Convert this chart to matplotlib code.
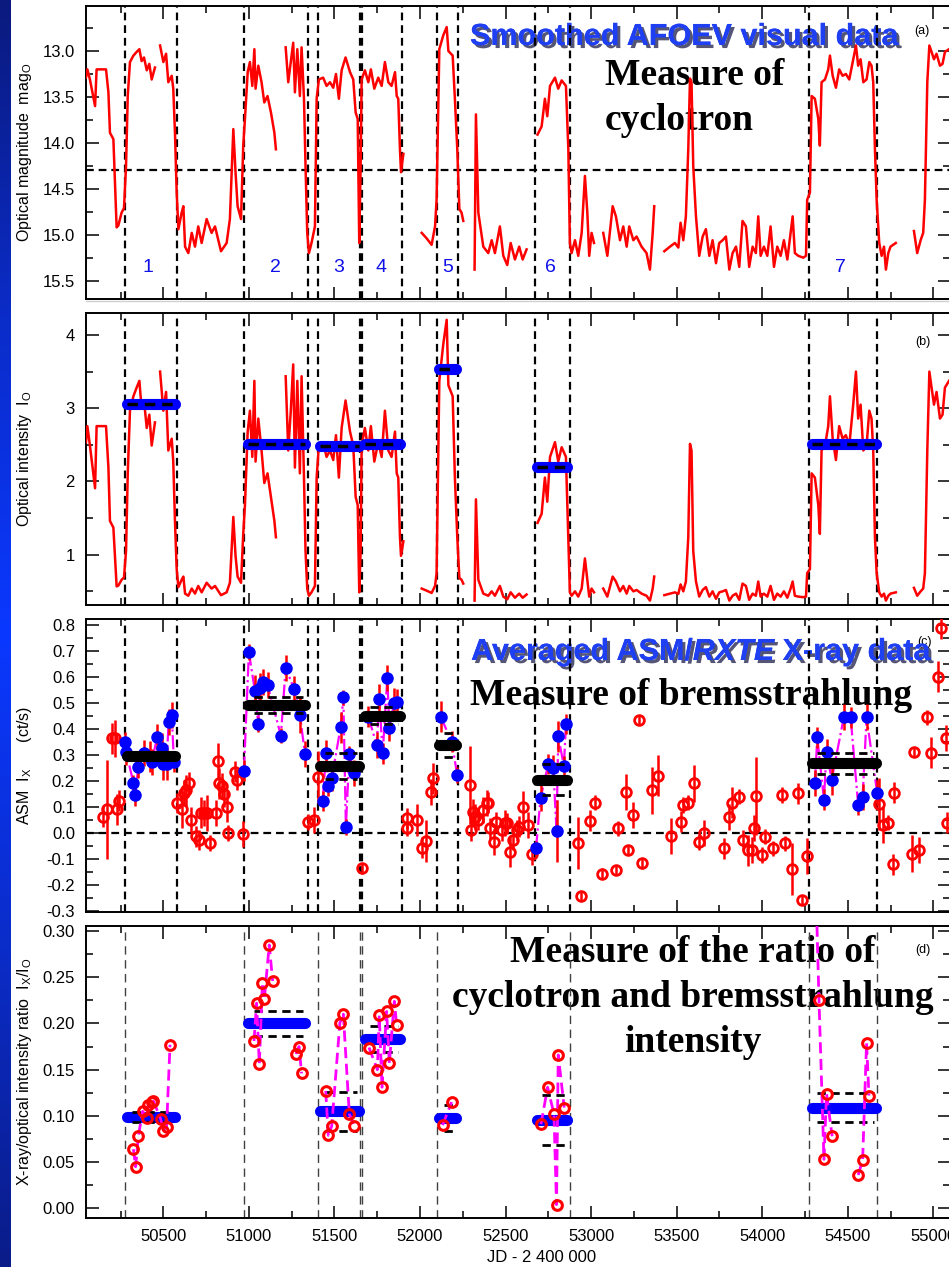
import numpy as np
import matplotlib.pyplot as plt
import matplotlib.patheffects as pe
from matplotlib.colors import LinearSegmentedColormap
from matplotlib.lines import Line2D
from matplotlib.ticker import MultipleLocator, FormatStrFormatter

plt.rcParams['font.family'] = ['Liberation Sans', 'DejaVu Sans']
plt.rcParams['mathtext.fontset'] = 'custom'
plt.rcParams['mathtext.rm'] = 'Liberation Sans'
plt.rcParams['mathtext.it'] = 'Liberation Sans:italic'

nan = np.nan

# --- smoothed AFOEV visual light curve (JD-2400000, magnitude), nan = gap ---
opt_jd = [50048, 50056, 50071, 50101, 50110, 50165, 50179, 50188, 50208, 50227, 50237, 50256,
          50270, 50282, 50292, 50305, 50325, 50344, 50360, 50373, 50387, 50403, 50418, 50432,
          50451, nan,
          50481, 50500, 50516, 50529, 50549, 50558, 50568, 50578, 50588, 50607, 50617, 50627,
          50646, 50666, 50685, 50704, 50724, 50753, 50782, 50802, 50837, 50870, 50889, 50909,
          50922, 50934, 50954, 50967, 50977, 50993, 51006, 51020, 51032, 51039, 51055, 51074,
          51090, 51109, 51129, 51149, 51158, nan,
          51215, 51230, 51245, 51259, 51269, 51283, 51298, 51308, 51322, 51331, 51341, 51351,
          51366, 51386, 51396, 51409, 51434, 51454, 51474, 51493, 51509, 51526, 51542, 51565,
          51591, 51610, 51624, 51636, 51645, 51653, 51659, 51678, 51698, 51713, 51733, 51756,
          51776, 51795, 51815, 51834, 51854, 51864, 51873, 51883, 51889, 51903, nan,
          52010, 52039, 52068, 52088, 52097, 52113, 52136, 52156, 52166, 52191, 52204, 52218,
          52230, 52243, 52253, nan,
          52319, 52327, 52341, 52370, 52399, 52419, 52438, 52467, 52487, 52510, 52530, 52555,
          52580, 52600, 52623, nan,
          52687, 52711, 52730, 52744, 52760, 52789, 52808, 52828, 52853, 52867, 52876, 52886,
          52906, 52925, 52945, 52964, 52978, 52989, 53003, 53017, nan,
          53071, 53095, 53126, 53145, 53169, 53188, 53208, 53223, 53247, 53266, 53295, 53324,
          53344, 53360, 53369, nan,
          53428, 53461, 53490, 53510, 53523, 53539, 53554, 53568, 53578, 53587, 53597, 53613,
          53632, 53652, 53671, 53691, 53710, 53730, 53749, 53769, 53788, 53808, 53827, 53847,
          53866, 53885, 53905, 53924, 53944, 53963, 53977, 53991, 54010, 54030, 54049, 54069,
          54088, 54108, 54127, 54147, 54166, 54178, 54191, 54211, 54240, 54256, 54263, 54279,
          54289, 54308, 54328, 54337, 54347, 54367, 54386, 54396, 54412, 54431, 54450, 54470,
          54489, 54509, 54532, 54548, 54561, 54575, 54591, 54610, 54626, 54639, 54649, 54659,
          54669, 54684, 54698, 54712, 54723, 54737, 54750, 54766, 54781, nan,
          54887, 54906, 54926, 54941, 54951, 54965, 54977, 54990, 55004, 55019, 55039, 55054,
          55068, 55092]
opt_mag = [13.29, 13.20, 13.31, 13.60, 13.20, 13.20, 13.45, 13.89, 13.96, 14.92, 14.90, 14.76,
           14.71, 14.25, 13.49, 13.12, 13.05, 13.01, 12.98, 13.11, 13.07, 13.21, 13.14, 13.31,
           13.18, nan,
           12.94, 13.12, 13.03, 13.34, 13.27, 13.41, 13.89, 14.54, 14.94, 14.76, 14.69, 15.13,
           15.20, 14.98, 15.13, 14.91, 15.09, 14.83, 14.98, 14.91, 15.18, 15.09, 14.83, 13.85,
           14.32, 14.69, 14.83, 14.03, 13.74, 13.23, 13.12, 13.38, 12.98, 13.41, 13.16, 13.34,
           13.56, 13.49, 13.67, 13.89, 14.07, nan,
           12.96, 13.34, 13.12, 12.91, 13.45, 12.98, 13.49, 12.96, 13.52, 14.25, 14.98, 15.20,
           15.09, 14.91, 13.52, 13.31, 13.29, 13.38, 13.34, 13.40, 13.25, 13.52, 13.21, 13.07,
           13.23, 13.31, 13.67, 13.74, 15.09, 14.25, 13.31, 13.21, 13.34, 13.20, 13.41, 13.29,
           13.38, 13.12, 13.34, 13.38, 13.23, 13.49, 13.52, 14.07, 14.32, 14.12, nan,
           14.98, 15.04, 15.11, 14.91, 14.62, 12.98, 12.83, 12.74, 13.00, 13.05, 13.52, 14.07,
           14.72, 14.76, 14.85, nan,
           15.38, 13.69, 14.76, 15.13, 15.20, 15.06, 15.20, 14.91, 15.23, 15.33, 15.09, 15.27,
           15.13, 15.27, 15.16, nan,
           13.91, 13.82, 13.52, 13.71, 13.38, 13.29, 13.41, 13.32, 13.38, 14.07, 15.09, 15.20,
           15.06, 15.23, 14.98, 14.36, 14.76, 15.23, 14.98, 15.09, nan,
           14.98, 15.23, 14.69, 14.80, 15.06, 14.91, 15.13, 14.91, 15.06, 15.02, 15.13, 15.20,
           15.38, 14.98, 14.69, nan,
           15.18, 15.13, 15.09, 15.14, 14.87, 15.06, 14.80, 14.07, 13.30, 13.34, 14.25, 14.80,
           15.23, 15.02, 14.94, 15.23, 15.06, 15.31, 15.09, 15.06, 15.02, 15.38, 15.20, 15.13,
           15.35, 14.85, 14.91, 15.35, 15.13, 15.20, 14.80, 15.23, 15.13, 15.23, 14.91, 15.35,
           15.13, 15.23, 15.06, 15.27, 14.98, 14.80, 15.20, 15.23, 15.25, 15.23, 14.62, 14.54,
           13.49, 13.52, 13.74, 14.03, 13.34, 13.31, 13.20, 13.05, 13.27, 13.40, 13.20, 13.27,
           13.25, 13.31, 13.09, 12.94, 13.16, 13.09, 13.34, 13.31, 13.12, 13.16, 13.34, 14.07,
           14.62, 15.09, 15.23, 15.13, 15.38, 15.20, 15.13, 15.11, 15.09, nan,
           14.96, 15.20, 15.06, 14.98, 14.62, 13.34, 12.94, 13.01, 13.09, 13.03, 13.16, 13.14,
           13.01, 12.98]
mag_ref = 14.3   # magnitude where optical intensity = 1 (dashed line in panel a)

# --- high-state intervals and their averages ---
state_start = [50286, 50997, 51416, 51678, 52113, 52682, 54289]
state_end = [50568, 51328, 51645, 51883, 52210, 52861, 54665]
state_label = ['1', '2', '3', '4', '5', '6', '7']
label_jd = [50411, 51158, 51526, 51771, 52163, 52765, 54460]
opt_avg = [3.06, 2.51, 2.48, 2.51, 3.54, 2.19, 2.51]
asm_avg = [0.297, 0.492, 0.257, 0.451, 0.338, 0.205, 0.267]
asm_avg_err = [0.010, 0.030, 0.050, 0.034, 0.046, 0.060, 0.039]
ratio_avg = [0.099, 0.200, 0.105, 0.183, 0.098, 0.096, 0.109]
ratio_avg_err = [0.0055, 0.013, 0.021, 0.014, 0.014, 0.027, 0.0155]

bounds_jd = [50278, 50578, 50972, 51344, 51406, 51651, 51663, 51897, 52100, 52222,
             52672, 52875, 54275, 54673]
bounds_jd_d = [50278, 50972, 51406, 51651, 51663, 52100, 52875, 54275, 54673]

# --- averaged ASM/RXTE points (all) ---
asm_jd = [50145, 50173, 50198, 50218, 50231, 50241, 50582, 50607, 50621, 50632, 50648, 50660,
          50691, 50710, 50720, 50738, 50757, 50773, 50808, 50821, 50827, 50841, 50855, 50870,
          50880, 50919, 50932, 50964, 51347, 51382, 51402, 51659, 51922, 51926, 51980, 52010,
          52035, 52062, 52078, 52292, 52296, 52310, 52321, 52340, 52370, 52389, 52399, 52409,
          52432, 52444, 52477, 52497, 52506, 52526, 52545, 52565, 52580, 52604, 52633, 52652,
          52925, 52939, 52993, 53022, 53061, 53145, 53159, 53204, 53217, 53247, 53280, 53299,
          53354, 53393, 53467, 53523, 53539, 53568, 53601, 53632, 53661, 53776, 53808, 53821,
          53866, 53885, 53919, 53938, 53952, 53963, 53997, 54016, 54061, 54113, 54133, 54172,
          54211, 54230, 54260, 54684, 54708, 54737, 54762, 54770, 54873, 54887, 54918, 54965,
          54984, 55029, 55043, 55074, 55082]
asm_rate = [0.062, 0.090, 0.363, 0.363, 0.090, 0.123, 0.115, 0.090, 0.154, 0.164, 0.193, 0.049,
            -0.013, -0.028, 0.077, 0.077, 0.077, -0.039, 0.077, 0.277, 0.190, 0.180, 0.149, 0.100,
            0.000, 0.235, 0.205, -0.005, 0.041, 0.049, 0.216, -0.137, 0.055, 0.017, 0.049, -0.057,
            -0.032, 0.158, 0.209, 0.184, 0.010, 0.081, 0.062, 0.051, 0.087, 0.113, 0.116, 0.017,
            -0.037, 0.041, 0.010, 0.036, 0.036, -0.073, -0.028, 0.010, 0.023, 0.100, 0.030, -0.083,
            -0.041, -0.244, 0.046, 0.116, -0.157, -0.144, 0.017, 0.158, -0.067, 0.068, 0.434, -0.118,
            0.164, 0.220, -0.013, 0.042, 0.107, 0.116, 0.190, -0.035, 0.000, -0.060, 0.062, 0.116,
            0.139, -0.028, -0.067, -0.067, 0.017, 0.141, -0.086, -0.015, -0.060, 0.145, -0.041, -0.141,
            0.152, -0.259, -0.089, 0.110, 0.030, 0.039, -0.121, 0.154, -0.080, 0.312, -0.067, 0.444,
            0.308, 0.601, 0.787, 0.363, 0.039]
asm_err = [0.04, 0.19, 0.06, 0.07, 0.06, 0.04, 0.04, 0.07, 0.05, 0.06, 0.04, 0.05,
           0.04, 0.04, 0.06, 0.05, 0.07, 0.03, 0.05, 0.07, 0.06, 0.05, 0.05, 0.06,
           0.03, 0.04, 0.04, 0.05, 0.03, 0.05, 0.10, 0.02, 0.04, 0.03, 0.06, 0.04,
           0.08, 0.05, 0.06, 0.15, 0.04, 0.05, 0.05, 0.04, 0.05, 0.05, 0.04, 0.04,
           0.05, 0.04, 0.04, 0.05, 0.04, 0.06, 0.04, 0.04, 0.04, 0.06, 0.05, 0.04,
           0.10, 0.02, 0.04, 0.03, 0.02, 0.02, 0.03, 0.07, 0.02, 0.05, 0.02, 0.02,
           0.09, 0.08, 0.07, 0.04, 0.03, 0.03, 0.07, 0.03, 0.05, 0.04, 0.05, 0.06,
           0.03, 0.04, 0.06, 0.05, 0.05, 0.15, 0.03, 0.03, 0.03, 0.03, 0.03, 0.10,
           0.04, 0.02, 0.07, 0.10, 0.07, 0.03, 0.04, 0.04, 0.07, 0.02, 0.05, 0.03,
           0.06, 0.06, 0.04, 0.05, 0.04]

# --- ASM points inside high states ---
act_jd = [[50276, 50282, 50325, 50334, 50354, 50387, 50422, 50432, 50465, 50490, 50500, 50519, 50531, 50549, 50562],
          [50971, 51000, 51035, 51055, 51065, 51084, 51109, 51187, 51215, 51265, 51298, 51328],
          [51431, 51451, 51464, 51484, 51536, 51552, 51567, 51587, 51616],
          [51698, 51747, 51762, 51782, 51809, 51821, 51848, 51867],
          [52121, 52185, 52218],
          [52678, 52705, 52750, 52779, 52798, 52808, 52841, 52853],
          [54308, 54322, 54361, 54376, 54406, 54478, 54517, 54561, 54587, 54610, 54672]]
act_rate = [[0.348, 0.312, 0.193, 0.145, 0.252, 0.306, 0.293, 0.274, 0.370, 0.325, 0.265, 0.265, 0.428, 0.453, 0.274],
            [0.239, 0.695, 0.547, 0.417, 0.556, 0.582, 0.569, 0.374, 0.636, 0.552, 0.453, 0.303],
            [0.122, 0.306, 0.181, 0.209, 0.406, 0.521, 0.023, 0.303, 0.231],
            [0.447, 0.338, 0.514, 0.306, 0.595, 0.404, 0.498, 0.505],
            [0.447, 0.351, 0.222],
            [-0.060, 0.135, 0.265, 0.248, 0.008, 0.372, 0.257, 0.419],
            [0.190, 0.367, 0.128, 0.312, 0.205, 0.447, 0.444, 0.107, 0.136, 0.444, 0.154]]
act_err = [[0.04, 0.05, 0.03, 0.04, 0.04, 0.05, 0.06, 0.05, 0.05, 0.06, 0.06, 0.06, 0.05, 0.05, 0.04],
           [0.04, 0.03, 0.06, 0.03, 0.06, 0.05, 0.05, 0.03, 0.05, 0.05, 0.07, 0.05],
           [0.04, 0.05, 0.04, 0.05, 0.06, 0.03, 0.03, 0.03, 0.05],
           [0.04, 0.05, 0.06, 0.04, 0.05, 0.05, 0.06, 0.05],
           [0.06, 0.04, 0.03],
           [0.03, 0.05, 0.04, 0.05, 0.12, 0.06, 0.04, 0.04],
           [0.05, 0.04, 0.04, 0.05, 0.06, 0.05, 0.04, 0.04, 0.05, 0.05, 0.05]]

# --- X-ray / optical ratio ---
ratio_jd = [[50325, 50338, 50354, 50379, 50403, 50412, 50432, 50442, 50484, 50500, 50519, 50539],
            [51030, 51045, 51061, 51079, 51090, 51119, 51139, nan, 51275, 51293, 51308],
            [51449, 51464, 51484, 51532, 51552, 51587, 51616],
            [51702, 51751, 51762, 51778, 51805, 51821, 51850, 51864],
            [52132, 52185],
            [52707, 52746, 52783, 52798, 52808, 52843],
            [54312, 54332, 54361, 54376, 54409, nan, 54561, 54587, 54610, 54624]]
ratio_val = [[0.064, 0.045, 0.078, 0.105, 0.098, 0.112, 0.115, 0.116, 0.097, 0.084, 0.088, 0.177],
             [0.181, 0.222, 0.156, 0.244, 0.226, 0.285, 0.246, nan, 0.167, 0.175, 0.146],
             [0.127, 0.079, 0.089, 0.201, 0.210, 0.102, 0.089],
             [0.174, 0.150, 0.209, 0.131, 0.213, 0.157, 0.224, 0.198],
             [0.090, 0.115],
             [0.091, 0.131, 0.102, 0.004, 0.166, 0.109],
             [0.360, 0.225, 0.053, 0.124, 0.078, nan, 0.036, 0.052, 0.179, 0.122]]

W, H = 949, 1267
fig = plt.figure(figsize=(W / 100, H / 100), dpi=100)


def fx(px):
    return px / W


def fy(py):
    return 1 - py / H


def panel(top, bottom):
    ax = fig.add_axes([fx(86), fy(bottom), (950.4 - 86) / W, (bottom - top) / H])
    ax.patch.set_visible(False)
    ax.set_xlim(50048, 55100)
    ax.xaxis.set_major_locator(MultipleLocator(500))
    ax.xaxis.set_minor_locator(MultipleLocator(250))
    ax.tick_params(which='both', direction='in', top=True, right=True, labelsize=12,
                   width=1.1, pad=8)
    ax.tick_params(which='major', length=9)
    ax.tick_params(which='minor', length=5)
    for s in ax.spines.values():
        s.set_linewidth(1.4)
    return ax


# blue strip at the left border
strip = fig.add_axes([0, 0, 11 / W, 1])
cmap = LinearSegmentedColormap.from_list('strip', ['#0a1a7e', '#0a2cc8', '#0a38ff', '#0a2cc8', '#0a1c88'])
strip.imshow(np.linspace(0, 1, 256)[:, None], aspect='auto', cmap=cmap)
strip.axis('off')

fig.add_artist(Line2D([fx(86), 1], [fy(300.5)] * 2, color='0.82', lw=1))

vdash = dict(color='k', lw=1.6, dashes=(3.5, 2.2), zorder=1)
shadow = [pe.withSimplePatchShadow(offset=(2.2, -2.2), shadow_rgbFace='#1c1c48', alpha=0.75),
          pe.Normal()]
blue_title = dict(fontsize=22, weight='bold', color='#1e3ff2', va='baseline', ha='left',
                  path_effects=shadow, zorder=-1)
black_serif = dict(fontsize=27, weight='bold', family='Liberation Serif', color='k',
                   va='baseline', zorder=-1)
opt_int = 10 ** (-0.4 * (np.array(opt_mag) - mag_ref))

# ---------------- (a) optical magnitude ----------------
ax1 = panel(6, 299)
ax1.set_ylim(15.7, 12.51)
ax1.yaxis.set_major_locator(MultipleLocator(0.5))
ax1.yaxis.set_minor_locator(MultipleLocator(0.25))
ax1.yaxis.set_major_formatter(FormatStrFormatter('%.1f'))
ax1.tick_params(labelbottom=False)
for x in bounds_jd:
    ax1.axvline(x, **vdash)
ax1.axhline(mag_ref, **vdash)
ax1.plot(opt_jd, opt_mag, color='#ff0000', lw=1.8, zorder=3)
for x, s in zip(label_jd, state_label):
    ax1.text(x, 15.36, s, color='#1010e8', fontsize=14, ha='center', va='center')
ax1.set_ylabel('Optical magnitude  mag$_{\\rm O}$', fontsize=11.5, va='center')

fig.text(fx(470), fy(45), 'Smoothed AFOEV visual data', **blue_title)
fig.text(fx(922), fy(31), '(a)', fontsize=9, ha='center', va='center', zorder=-2)
fig.text(fx(605), fy(85), 'Measure of', ha='left', **black_serif)
fig.text(fx(605), fy(130), 'cyclotron', ha='left', **black_serif)

# ---------------- (b) optical intensity ----------------
ax2 = panel(313, 605)
ax2.set_ylim(0.31, 4.30)
ax2.yaxis.set_major_locator(MultipleLocator(1))
ax2.yaxis.set_minor_locator(MultipleLocator(0.5))
ax2.tick_params(labelbottom=False)
for x in bounds_jd:
    ax2.axvline(x, **vdash)
ax2.plot(opt_jd, opt_int, color='#ff0000', lw=1.8, zorder=3)
for s, e, v in zip(state_start, state_end, opt_avg):
    ax2.plot([s, e], [v, v], color='#0000ff', lw=8, solid_capstyle='round', zorder=4)
    ax2.plot([s, e], [v, v], color='k', lw=2.5, dashes=(3, 2), zorder=5)
ax2.set_ylabel('Optical intensity  I$_{\\rm O}$', fontsize=11.5, va='center')
fig.text(fx(923), fy(342), '(b)', fontsize=9, ha='center', va='center', zorder=-2)

# ---------------- (c) ASM X-ray ----------------
ax3 = panel(619, 912)
ax3.set_ylim(-0.305, 0.823)
ax3.yaxis.set_major_locator(MultipleLocator(0.1))
ax3.yaxis.set_minor_locator(MultipleLocator(0.05))
ax3.yaxis.set_major_formatter(FormatStrFormatter('%.1f'))
ax3.tick_params(labelbottom=False)
for x in bounds_jd:
    ax3.axvline(x, **vdash)
ax3.axhline(0, **vdash)
ax3.errorbar(asm_jd, asm_rate, yerr=asm_err, fmt='o', mfc='none', mec='#ff0000',
             ecolor='#ff0000', ms=7, mew=2, elinewidth=1.8, capsize=0, zorder=3)
for jd, r, e in zip(act_jd, act_rate, act_err):
    ax3.plot(jd, r, color='#ff00ff', lw=1.6, ls='-.', zorder=3)
    ax3.errorbar(jd, r, yerr=e, fmt='o', mfc='#0000ff', mec='#0000ff', ecolor='#ff0000',
                 ms=8, elinewidth=1.8, capsize=0, zorder=4)
for s, e, v, dv in zip(state_start, state_end, asm_avg, asm_avg_err):
    ax3.plot([s, e], [v, v], color='k', lw=8, solid_capstyle='round', zorder=5)
    for b in (v - dv, v + dv):
        ax3.plot([s + 30, e - 12], [b, b], color='k', lw=2, dashes=(3, 2), zorder=5)
ax3.set_ylabel('ASM  I$_{\\rm X}$      (ct/s)', fontsize=11.5, va='center')

fig.text(fx(925), fy(642), '(c)', fontsize=9, ha='center', va='center', zorder=-2)
rend = fig.canvas.get_renderer()
x0 = fx(471)
for txt, st in [('Averaged ASM/', 'normal'), ('RXTE', 'italic'), (' X-ray data', 'normal')]:
    t = fig.text(x0, fy(660), txt, style=st, **blue_title)
    x0 = t.get_window_extent(renderer=rend).x1 / W
fig.text(fx(470), fy(705), 'Measure of bremsstrahlung', ha='left', **black_serif)

# ---------------- (d) ratio ----------------
ax4 = panel(926, 1218)
ax4.set_ylim(-0.0105, 0.3055)
ax4.yaxis.set_major_locator(MultipleLocator(0.05))
ax4.yaxis.set_minor_locator(MultipleLocator(0.025))
ax4.yaxis.set_major_formatter(FormatStrFormatter('%.2f'))
ax4.xaxis.set_major_formatter(FormatStrFormatter('%d'))
for x in bounds_jd_d:
    ax4.axvline(x, color='0.25', lw=1.0, dashes=(6, 4), zorder=1)
for s, e, v, dv in zip(state_start, state_end, ratio_avg, ratio_avg_err):
    ax4.plot([s, e], [v, v], color='#0000ff', lw=8, solid_capstyle='round', zorder=2)
    for b in (v - dv, v + dv):
        ax4.plot([s + 30, e - 12], [b, b], color='k', lw=2, dashes=(3, 2), zorder=2)
for jd, r in zip(ratio_jd, ratio_val):
    ax4.plot(jd, r, color='#ff00ff', lw=2, dashes=(4, 2), zorder=3)
    ax4.plot(jd, r, 'o', mfc='none', mec='#ff0000', mew=2.2, ms=7, zorder=4)
ax4.set_ylabel('X-ray/optical intensity ratio  I$_{\\rm X}$/I$_{\\rm O}$', fontsize=11.5, va='center')

fig.text(fx(923), fy(950), '(d)', fontsize=9, ha='center', va='center', zorder=-2)
for yb, line in zip([962, 1007, 1052], ['Measure of the ratio of', 'cyclotron and bremsstrahlung', 'intensity']):
    fig.text(fx(693), fy(yb), line, ha='center', **black_serif)
fig.text(fx(487), fy(1257), 'JD - 2 400 000', fontsize=12, ha='left', va='center')

for ax in (ax1, ax2, ax3, ax4):
    ax.yaxis.set_label_coords((24.5 - 86) / (950.4 - 86), 0.5)

fig.savefig('out.png', dpi=100)
